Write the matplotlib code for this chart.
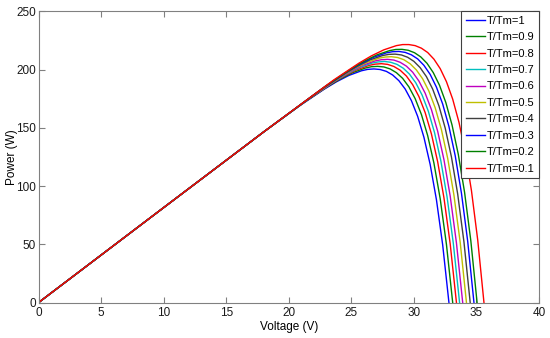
"""
PV power-voltage curves for several T/Tm ratios (MATLAB-style figure).
Saves: out.png
"""

import matplotlib.pyplot as plt

plt.rcParams['font.family'] = ['Liberation Sans', 'DejaVu Sans']

# shared near-linear start of every curve
v_low = [0, 10, 18]
p_low = [0, 81.5, 146.5]

labels = ['T/Tm=1', 'T/Tm=0.9', 'T/Tm=0.8', 'T/Tm=0.7', 'T/Tm=0.6',
          'T/Tm=0.5', 'T/Tm=0.4', 'T/Tm=0.3', 'T/Tm=0.2', 'T/Tm=0.1']

# voltage (V) and power (W), from knee to open circuit
v1 = [20.8, 22.8, 23.8, 24.8, 25.8, 26.3, 26.8, 27.3, 27.8, 28.3, 28.8, 29.3, 29.8, 30.3, 30.8, 31.3, 31.8, 32.3, 32.8]
p1 = [168.4, 182.9, 189.4, 194.9, 198.9, 200.1, 200.5, 200.0, 198.4, 195.3, 190.4, 183.3, 173.3, 159.8, 141.9, 118.5, 88.3, 49.5, 0]

v2 = [21.1, 23.1, 24.1, 25.1, 26.1, 26.6, 27.1, 27.6, 28.1, 28.6, 29.1, 29.6, 30.1, 30.6, 31.1, 31.6, 32.1, 32.6, 33.1]
p2 = [170.8, 185.4, 191.8, 197.3, 201.2, 202.4, 202.7, 202.2, 200.5, 197.3, 192.4, 185.1, 175.0, 161.4, 143.3, 119.7, 89.2, 50.0, 0]

v3 = [21.4, 23.4, 24.4, 25.4, 26.4, 26.9, 27.4, 27.9, 28.4, 28.9, 29.4, 29.9, 30.4, 30.9, 31.4, 31.9, 32.4, 32.9, 33.4]
p3 = [173.2, 187.8, 194.2, 199.6, 203.5, 204.6, 205.0, 204.4, 202.6, 199.4, 194.4, 187.0, 176.8, 163.0, 144.7, 120.8, 90.0, 50.4, 0]

v4 = [21.65, 23.65, 24.65, 25.65, 26.65, 27.15, 27.65, 28.15, 28.65, 29.15, 29.65, 30.15, 30.65, 31.15, 31.65, 32.15, 32.65, 33.15, 33.65]
p4 = [175.3, 189.8, 196.2, 201.6, 205.5, 206.5, 206.9, 206.2, 204.4, 201.1, 196.0, 188.6, 178.2, 164.3, 145.8, 121.8, 90.7, 50.8, 0]

v5 = [21.9, 23.9, 24.9, 25.9, 26.9, 27.4, 27.9, 28.4, 28.9, 29.4, 29.9, 30.4, 30.9, 31.4, 31.9, 32.4, 32.9, 33.4, 33.9]
p5 = [177.3, 191.8, 198.2, 203.6, 207.4, 208.4, 208.7, 208.1, 206.2, 202.9, 197.7, 190.1, 179.7, 165.6, 147.0, 122.7, 91.4, 51.2, 0]

v6 = [22.2, 24.2, 25.2, 26.2, 27.2, 27.7, 28.2, 28.7, 29.2, 29.7, 30.2, 30.7, 31.2, 31.7, 32.2, 32.7, 33.2, 33.7, 34.2]
p6 = [179.7, 194.2, 200.6, 205.9, 209.7, 210.7, 211.0, 210.3, 208.4, 204.9, 199.6, 192.0, 181.4, 167.2, 148.4, 123.8, 92.2, 51.7, 0]

v7 = [22.5, 24.5, 25.5, 26.5, 27.5, 28.0, 28.5, 29.0, 29.5, 30.0, 30.5, 31.0, 31.5, 32.0, 32.5, 33.0, 33.5, 34.0, 34.5]
p7 = [182.2, 196.6, 202.9, 208.3, 212.0, 213.0, 213.2, 212.5, 210.5, 207.0, 201.6, 193.9, 183.2, 168.8, 149.8, 125.0, 93.1, 52.1, 0]

v8 = [22.8, 24.8, 25.8, 26.8, 27.8, 28.3, 28.8, 29.3, 29.8, 30.3, 30.8, 31.3, 31.8, 32.3, 32.8, 33.3, 33.8, 34.3, 34.8]
p8 = [184.6, 199.0, 205.3, 210.6, 214.3, 215.3, 215.5, 214.7, 212.6, 209.1, 203.6, 195.8, 184.9, 170.4, 151.1, 126.1, 93.9, 52.6, 0]

v9 = [23.05, 25.05, 26.05, 27.05, 28.05, 28.55, 29.05, 29.55, 30.05, 30.55, 31.05, 31.55, 32.05, 32.55, 33.05, 33.55, 34.05, 34.55, 35.05]
p9 = [186.6, 201.0, 207.3, 212.6, 216.2, 217.2, 217.3, 216.5, 214.4, 210.8, 205.3, 197.3, 186.4, 171.7, 152.3, 127.1, 94.6, 53.0, 0]

v10 = [23.6, 25.6, 26.6, 27.6, 28.6, 29.1, 29.6, 30.1, 30.6, 31.1, 31.6, 32.1, 32.6, 33.1, 33.6, 34.1, 34.6, 35.1, 35.6]
p10 = [191.1, 205.4, 211.7, 216.9, 220.5, 221.4, 221.4, 220.5, 218.3, 214.6, 208.9, 200.8, 189.6, 174.6, 154.8, 129.2, 96.1, 53.8, 0]

volts = [v1, v2, v3, v4, v5, v6, v7, v8, v9, v10]
powers = [p1, p2, p3, p4, p5, p6, p7, p8, p9, p10]

# old MATLAB colour order, cycling after 7
colors = ['#0000ff', '#008000', '#ff0000', '#00bfbf', '#bf00bf',
          '#bfbf00', '#404040', '#0000ff', '#008000', '#ff0000']

fig = plt.figure(figsize=(5.5, 3.38), dpi=100)
ax = fig.add_axes([0.0702, 0.105, 0.9098, 0.8617])

for v, p, c, lab in zip(volts, powers, colors, labels):
    ax.plot(v_low + v, p_low + p, color=c, linewidth=1.0, label=lab)

ax.set_xlim(0, 40)
ax.set_ylim(0, 250)
ax.set_xticks(range(0, 41, 5))
ax.set_yticks(range(0, 251, 50))
ax.set_xlabel('Voltage (V)', fontsize=8.5, labelpad=1)
ax.set_ylabel('Power (W)', fontsize=8.5)
ax.yaxis.set_label_coords(-0.041, 0.5)

ax.tick_params(direction='in', length=4, width=0.8, labelsize=8.5,
               top=True, right=True, colors='#808080', labelcolor='#1a1a1a')
ax.tick_params(axis='y', pad=2)
for s in ax.spines.values():
    s.set_color('#808080')
    s.set_linewidth(0.8)

leg = ax.legend(loc='upper right', fontsize=8, borderaxespad=0,
                fancybox=False, edgecolor='#404040', framealpha=1,
                handlelength=1.7, handletextpad=0.2, labelspacing=0.58,
                borderpad=0.4)
leg.get_frame().set_linewidth(0.8)

fig.savefig('out.png', dpi=100)
plt.close()
